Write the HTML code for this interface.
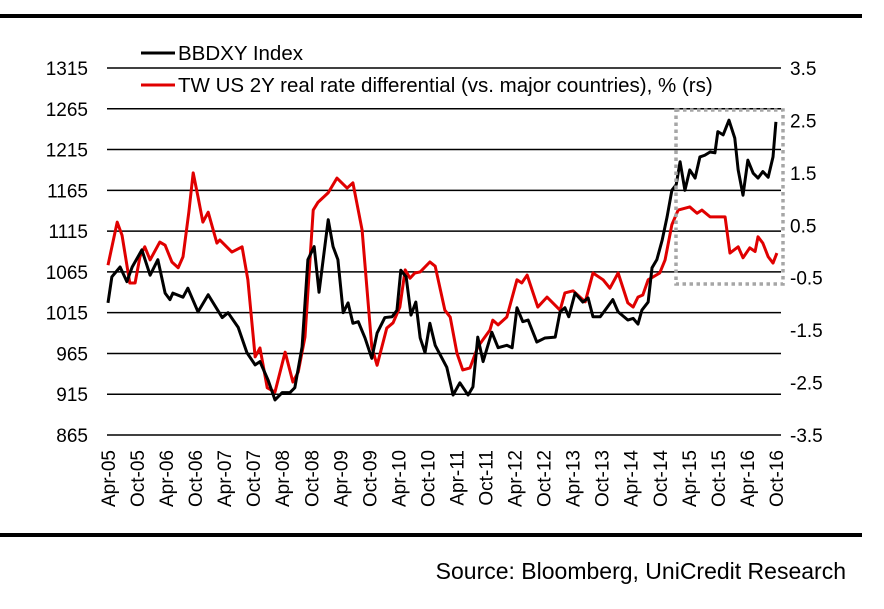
<!DOCTYPE html>
<html><head><meta charset="utf-8"><style>
body{margin:0;background:#fff;}
svg text{font-family:"Liberation Sans",Arial,sans-serif;fill:#000;}
</style></head><body>
<svg id="chart" width="884" height="604" xmlns="http://www.w3.org/2000/svg">
<rect x="0" y="14" width="862" height="4" fill="#000"/>
<rect x="0" y="533" width="862" height="4" fill="#000"/>
<g id="grid"></g><g id="series"></g><g id="axes"></g>
<rect x="676" y="110" width="107" height="174" fill="none" stroke="#a6a6a6" stroke-width="3.5" stroke-dasharray="3.5,3.5"/>
<g>
<line x1="141" y1="53" x2="175" y2="53" stroke="#000" stroke-width="3"/>
<text x="178" y="60" font-size="20.5">BBDXY Index</text>
<line x1="141" y1="85" x2="175" y2="85" stroke="#e00000" stroke-width="3"/>
<text x="178" y="92" font-size="20.5">TW US 2Y real rate differential (vs. major countries), % (rs)</text>
</g>
<text x="846" y="579" font-size="23" text-anchor="end">Source: Bloomberg, UniCredit Research</text>
</svg>
<script>
const xLabels=["Apr-05","Oct-05","Apr-06","Oct-06","Apr-07","Oct-07","Apr-08","Oct-08","Apr-09","Oct-09","Apr-10","Oct-10","Apr-11","Oct-11","Apr-12","Oct-12","Apr-13","Oct-13","Apr-14","Oct-14","Apr-15","Oct-15","Apr-16","Oct-16"];
const leftTicks=[1315,1265,1215,1165,1115,1065,1015,965,915,865];
const rightTicks=["3.5","2.5","1.5","0.5","-0.5","-1.5","-2.5","-3.5"];
const bbMonths=[0,0.8,2.5,3.9,5,7,8.7,10.3,11.8,12.8,13.4,15.5,16.5,18.6,20.7,23.6,24.8,26.9,28.7,30.4,31.4,33.1,34.5,36,37.6,38.6,40.1,41.3,42.6,43.6,45.5,46.5,47.5,48.6,49.6,50.6,51.7,53.1,54.5,55.6,57.2,58.7,59.7,60.5,61.6,62.6,63.6,64.5,65.5,66.5,67.6,70,71.3,72.7,74.4,75.4,76.4,77.5,79.3,80.6,82.4,83.5,84.5,85.7,86.8,88.6,90.3,92.4,93.4,94.4,95.2,96.5,98.1,99.2,100.2,101.7,102.7,104.3,105.4,107.4,108.5,109.5,110.3,111.6,112.4,113.4,114.5,115.5,116.5,117.4,118.2,119.2,120.2,121.3,122.3,123.3,124.4,125.4,126,127.1,128.3,129.5,130.2,131.2,132.2,133.3,134.3,135.3,136.4,137.4,138];
const bbValues=[1027,1059,1071,1053,1071,1092,1061,1080,1039,1031,1039,1034,1045,1016,1037,1009,1015,997,966,951,955,932,908,917,917,923,973,1080,1096,1040,1129,1096,1080,1015,1027,1002,1004,984,959,990,1009,1010,1018,1067,1059,1012,1028,984,966,1002,975,948,914,929,914,924,985,955,991,972,975,972,1021,1004,1006,979,984,985,1016,1021,1010,1039,1028,1033,1010,1010,1018,1031,1016,1006,1008,1001,1018,1028,1070,1080,1104,1132,1165,1172,1200,1165,1190,1180,1206,1208,1212,1211,1237,1233,1251,1229,1190,1159,1202,1186,1180,1188,1181,1206,1249];
const rdMonths=[0,1.9,2.9,4.5,5.6,6.6,7.6,8.7,10.7,11.8,13.2,14.5,15.5,16.7,17.6,18.6,19.6,20.7,22.5,23.1,25.6,27.7,28.9,30.4,31.4,32.9,34.5,36.6,38.2,39.3,40.7,42.4,43.4,45.5,47.3,49.4,50.6,52.5,54.5,55.6,57.6,58.9,60.3,61.4,62.4,63.4,64.5,66.5,67.6,69.6,70.7,72.1,73.3,74.8,76.4,78.9,79.5,80.6,82.4,84.5,85.5,86.6,88.8,90.7,93.4,94.4,96.1,98.6,100.2,102.3,103.7,105.4,107.4,108.5,109.5,110.5,111.6,114,115.1,116.5,117.8,120.2,121.7,122.7,124.4,126,127.5,128.5,130.2,131.2,132.6,133.7,134.3,135.3,136.4,137.4,138.2];
const rdValues=[-0.26,0.56,0.31,-0.6,-0.6,-0.1,0.09,-0.16,0.18,0.12,-0.2,-0.31,-0.1,0.75,1.5,1.04,0.56,0.75,0.16,0.22,-0.01,0.09,-0.54,-2.01,-1.84,-2.6,-2.68,-1.92,-2.49,-2.3,-1.63,0.79,0.94,1.12,1.4,1.21,1.31,0.41,-1.82,-2.17,-1.46,-1.36,-1.06,-0.35,-0.51,-0.41,-0.39,-0.2,-0.28,-1.12,-1.25,-1.94,-2.26,-2.22,-1.82,-1.5,-1.31,-1.4,-1.25,-0.54,-0.6,-0.45,-1.06,-0.87,-1.12,-0.79,-0.75,-0.96,-0.41,-0.54,-0.7,-0.41,-0.98,-1.06,-0.87,-0.83,-0.54,-0.41,-0.16,0.51,0.79,0.85,0.73,0.79,0.66,0.66,0.66,-0.03,0.09,-0.12,0.07,0,0.28,0.16,-0.1,-0.22,-0.03];

const NS="http://www.w3.org/2000/svg";
const X=m=>108+4.84*m;
const YL=v=>68+(1315-v)*(367/450);
const YR=v=>68+(3.5-v)*(367/7);
function mk(tag,attrs,parent,txt){const e=document.createElementNS(NS,tag);for(const k in attrs)e.setAttribute(k,attrs[k]);if(txt!==undefined)e.textContent=txt;parent.appendChild(e);return e;}
const grid=document.getElementById('grid'),axes=document.getElementById('axes'),series=document.getElementById('series');
leftTicks.forEach(v=>{
  const l=mk('line',{x1:107,x2:781,y1:YL(v),y2:YL(v),stroke:'#000','stroke-width':1.5},grid);
  
  
  const t=mk('text',{x:88,y:YL(v)+7,'font-size':19,'text-anchor':'end'},axes,String(v));
  
  
});
rightTicks.forEach(s=>{
  const t=mk('text',{x:790,y:YR(parseFloat(s))+7,'font-size':19},axes,s);
  
  
});
xLabels.forEach((s,i)=>{
  const x=X(i*6)+7;
  const t=mk('text',{x:x,y:450,'font-size':19,'text-anchor':'end',transform:`rotate(-90 ${x} 450)`},axes,s);
  
  
});
const rd=mk('polyline',{points:rdMonths.map((m,i)=>X(m)+','+YR(rdValues[i])).join(' '),fill:'none',stroke:'#e00000','stroke-width':3,'stroke-linejoin':'round'},series);


const bb=mk('polyline',{points:bbMonths.map((m,i)=>X(m)+','+YL(bbValues[i])).join(' '),fill:'none',stroke:'#000','stroke-width':3,'stroke-linejoin':'round'},series);


</script>
</body></html>
